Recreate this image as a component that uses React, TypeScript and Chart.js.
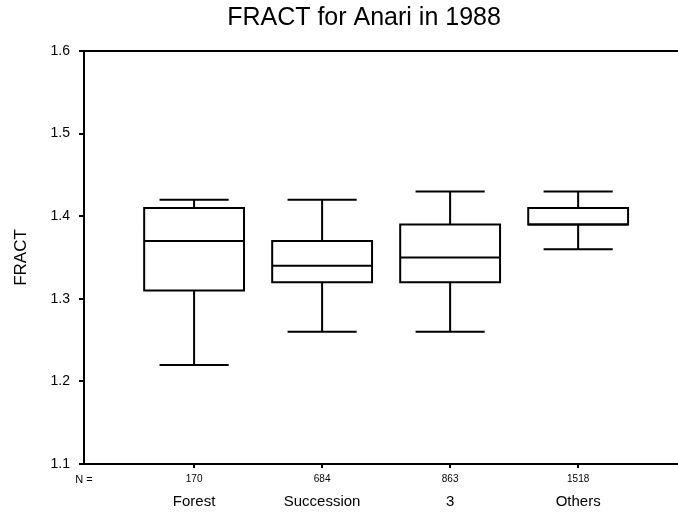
import React, { useEffect, useRef } from 'react';
import { Chart, registerables } from 'chart.js';

Chart.register(...registerables);

// ---- data ----
const TITLE = 'FRACT for Anari in 1988';
const Y_TITLE = 'FRACT';
const N_LABEL = 'N =';
const categories = ['Forest', 'Succession', '3', 'Others'];
const counts = [170, 684, 863, 1518];
const whiskerLow = [1.22, 1.26, 1.26, 1.36];
const q1 = [1.31, 1.32, 1.32, 1.39];
const medians = [1.37, 1.34, 1.35, 1.39];
const q3 = [1.41, 1.37, 1.39, 1.41];
const whiskerHigh = [1.42, 1.42, 1.43, 1.43];
const yTicks = [1.1, 1.2, 1.3, 1.4, 1.5, 1.6];

// ---- layout / style constants ----
const W = 678;
const H = 514;
const X_MIN = 0.14;
const X_MAX = 4.78;
const BOX_HALF = 0.39;
const CAP_HALF = 0.27;
const FONT = '"Liberation Sans", Arial, Helvetica, sans-serif';

function buildData() {
  const boxes: any[] = [];
  const meds: any[] = [];
  const whisk: any[] = [];
  const caps: any[] = [];
  categories.forEach((_, i) => {
    const c = i + 1;
    boxes.push(
      { x: c, y: q1[i] },
      { x: c + BOX_HALF, y: q1[i] },
      { x: c + BOX_HALF, y: q3[i] },
      { x: c - BOX_HALF, y: q3[i] },
      { x: c - BOX_HALF, y: q1[i] },
      { x: c, y: q1[i] },
      { x: c, y: null }
    );
    meds.push({ x: c - BOX_HALF, y: medians[i] }, { x: c + BOX_HALF, y: medians[i] }, { x: c, y: null });
    whisk.push(
      { x: c, y: q3[i] },
      { x: c, y: whiskerHigh[i] },
      { x: c, y: null },
      { x: c, y: q1[i] },
      { x: c, y: whiskerLow[i] },
      { x: c, y: null }
    );
    caps.push(
      { x: c - CAP_HALF, y: whiskerHigh[i] },
      { x: c + CAP_HALF, y: whiskerHigh[i] },
      { x: c, y: null },
      { x: c - CAP_HALF, y: whiskerLow[i] },
      { x: c + CAP_HALF, y: whiskerLow[i] },
      { x: c, y: null }
    );
  });
  const common = {
    borderColor: '#000',
    borderWidth: 2,
    pointRadius: 0,
    pointHoverRadius: 0,
    fill: false,
    tension: 0,
    spanGaps: false,
    borderJoinStyle: 'miter' as const,
    borderCapStyle: 'butt' as const,
    xAxisID: 'x',
    yAxisID: 'y',
  };
  return {
    datasets: [
      { ...common, label: 'box', data: boxes },
      { ...common, label: 'median', data: meds },
      { ...common, label: 'whisker', data: whisk },
      { ...common, label: 'cap', data: caps },
    ],
  };
}

const titlePlugin = {
  id: 'centeredTitle',
  afterDraw(chart: any) {
    const { ctx } = chart;
    ctx.save();
    ctx.font = `25px ${FONT}`;
    ctx.fillStyle = '#000';
    ctx.textAlign = 'center';
    ctx.textBaseline = 'alphabetic';
    ctx.fillText(TITLE, 364, 25);
    ctx.restore();
  },
};

export default function App() {
  const ref = useRef<HTMLCanvasElement | null>(null);
  useEffect(() => {
    if (!ref.current) return;
    const chart = new Chart(ref.current, {
      type: 'line',
      data: buildData() as any,
      plugins: [titlePlugin],
      options: {
        responsive: false,
        animation: false,
        devicePixelRatio: 1,
        layout: { padding: { top: 51, left: 0, right: 0, bottom: 0 } },
        plugins: {
          legend: { display: false },
          tooltip: { enabled: false },
          title: { display: false },
        },
        events: [],
        scales: {
          x: {
            type: 'linear',
            position: 'bottom',
            weight: 0,
            min: X_MIN,
            max: X_MAX,
            afterBuildTicks: (scale: any) => {
              scale.ticks = [X_MIN, ...categories.map((_, i) => i + 1)].map((v) => ({ value: v }));
            },
            afterFit: (scale: any) => {
              scale.height = 24;
            },
            border: { display: true, color: '#000', width: 2 },
            grid: {
              display: true,
              drawOnChartArea: false,
              drawTicks: true,
              tickLength: 4,
              lineWidth: 2,
              tickColor: (ctx: any) => (ctx.index === 0 ? 'rgba(0,0,0,0)' : '#000'),
            },
            ticks: {
              autoSkip: false,
              maxRotation: 0,
              minRotation: 0,
              padding: 5,
              color: '#000',
              font: (ctx: any) => ({ family: FONT, size: ctx.index === 0 ? 11 : 10 }),
              callback: (v: any) => {
                if (Math.abs(v - X_MIN) < 1e-9) return N_LABEL;
                const idx = Math.round(v) - 1;
                return String(counts[idx]);
              },
            },
          },
          x2: {
            type: 'linear',
            position: 'bottom',
            weight: 1,
            min: X_MIN,
            max: X_MAX,
            afterBuildTicks: (scale: any) => {
              scale.ticks = categories.map((_, i) => ({ value: i + 1 }));
            },
            afterFit: (scale: any) => {
              scale.height = 26;
            },
            border: { display: false },
            grid: { display: false, drawTicks: false, drawOnChartArea: false },
            ticks: {
              autoSkip: false,
              maxRotation: 0,
              minRotation: 0,
              padding: 5,
              color: '#000',
              font: { family: FONT, size: 15 },
              callback: (v: any) => categories[Math.round(v) - 1],
            },
          },
          y: {
            type: 'linear',
            position: 'left',
            min: yTicks[0],
            max: yTicks[yTicks.length - 1],
            afterBuildTicks: (scale: any) => {
              scale.ticks = yTicks.map((v) => ({ value: v }));
            },
            afterFit: (scale: any) => {
              scale.width = 84;
            },
            border: { display: true, color: '#000', width: 2 },
            grid: {
              display: true,
              drawOnChartArea: true,
              drawTicks: true,
              tickLength: 5,
              lineWidth: 2,
              color: (ctx: any) =>
                ctx.tick && Math.abs(ctx.tick.value - yTicks[yTicks.length - 1]) < 1e-9 ? '#000' : 'rgba(0,0,0,0)',
              tickColor: '#000',
            },
            ticks: {
              padding: 9,
              color: '#000',
              font: { family: FONT, size: 14 },
              callback: (v: any) => Number(v).toFixed(1),
            },
            title: {
              display: true,
              text: Y_TITLE,
              color: '#000',
              font: { family: FONT, size: 17 },
              padding: { top: 11, bottom: 0 },
            },
          },
        },
      } as any,
    });
    return () => chart.destroy();
  }, []);
  return (
    <div style={{ position: 'absolute', left: 0, top: 0, width: W, height: H, background: '#fff' }}>
      <canvas ref={ref} width={W} height={H} style={{ width: W, height: H, display: 'block' }} />
    </div>
  );
}
